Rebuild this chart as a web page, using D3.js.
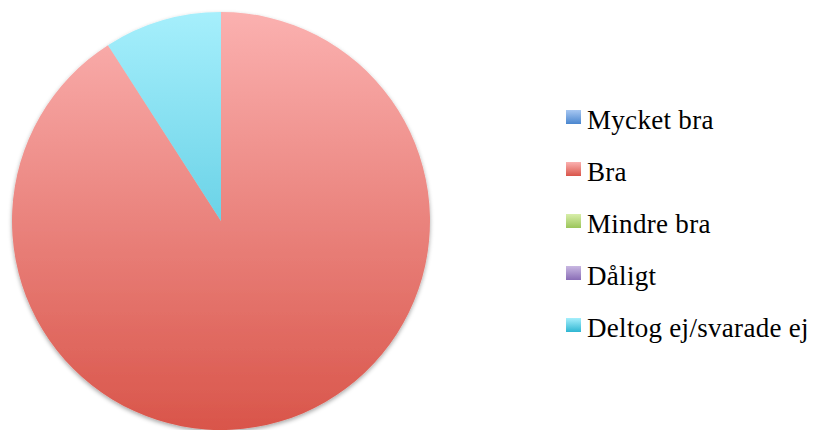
<!DOCTYPE html>
<html>
<head>
<meta charset="utf-8">
<script src="https://cdn.jsdelivr.net/npm/d3@7"></script>
<style>
  body { margin: 0; background: #fff; }
  svg { display: block; }
</style>
</head>
<body>
<script>
// Värden
const kategorier = ["Mycket bra", "Bra", "Mindre bra", "Dåligt", "Deltog ej/svarade ej"];
const antal = [0, 10, 0, 0, 1];
const ljusFarg = ["#a7c7f2", "#fbb1b0", "#d8eeaa", "#c9b8e2", "#a6effc"];
const morkFarg = ["#4a86cf", "#d9554a", "#9bc55a", "#8a6db6", "#2fb6d2"];

const WIDTH = 819;
const HEIGHT = 430;
const CENTRUM = { x: 221, y: 221 };
const RADIE = 209;

const svg = d3.select("body")
  .append("svg")
  .attr("width", WIDTH)
  .attr("height", HEIGHT);

const defs = svg.append("defs");

// Skugga under pajen
const skugga = defs.append("filter")
  .attr("id", "skugga")
  .attr("x", "-10%").attr("y", "-10%")
  .attr("width", "120%").attr("height", "120%");
skugga.append("feDropShadow")
  .attr("dx", 0).attr("dy", 2)
  .attr("stdDeviation", 2)
  .attr("flood-color", "#000")
  .attr("flood-opacity", 0.35);

// En gradient per kategori för pajen (över hela pajens höjd)
kategorier.forEach((k, i) => {
  const g = defs.append("linearGradient")
    .attr("id", `paj${i}`)
    .attr("gradientUnits", "userSpaceOnUse")
    .attr("x1", 0).attr("x2", 0)
    .attr("y1", -RADIE).attr("y2", RADIE);
  g.append("stop").attr("offset", "0%").attr("stop-color", ljusFarg[i]);
  g.append("stop").attr("offset", "100%").attr("stop-color", morkFarg[i]);

  const l = defs.append("linearGradient")
    .attr("id", `leg${i}`)
    .attr("x1", 0).attr("x2", 0).attr("y1", 0).attr("y2", 1);
  l.append("stop").attr("offset", "0%").attr("stop-color", ljusFarg[i]);
  l.append("stop").attr("offset", "100%").attr("stop-color", morkFarg[i]);
});

const data = kategorier.map((k, i) => ({ namn: k, varde: antal[i], index: i }));

const paj = d3.pie()
  .value(d => d.varde)
  .sort(null);

const bage = d3.arc()
  .innerRadius(0)
  .outerRadius(RADIE);

const contenedorPaj = svg.append("g")
  .attr("transform", `translate(${CENTRUM.x}, ${CENTRUM.y})`)
  .attr("filter", "url(#skugga)");

contenedorPaj.selectAll("path")
  .data(paj(data).filter(d => d.data.varde > 0))
  .join("path")
  .attr("d", bage)
  .attr("fill", d => `url(#paj${d.data.index})`);

// Förklaring
const escalaY = d3.scalePoint()
  .domain(kategorier)
  .range([117, 325]);

const legend = svg.append("g");

const rad = legend.selectAll("g")
  .data(data)
  .join("g")
  .attr("transform", d => `translate(566, ${escalaY(d.namn)})`);

rad.append("rect")
  .attr("x", 0)
  .attr("y", -7)
  .attr("width", 15)
  .attr("height", 14)
  .attr("fill", d => `url(#leg${d.index})`);

rad.append("text")
  .attr("x", 21)
  .attr("y", 12)
  .attr("font-family", "'Liberation Serif', 'DejaVu Serif', serif")
  .attr("font-size", 27)
  .attr("letter-spacing", 0.3)
  .attr("fill", "#000")
  .text(d => d.namn);
</script>
</body>
</html>
